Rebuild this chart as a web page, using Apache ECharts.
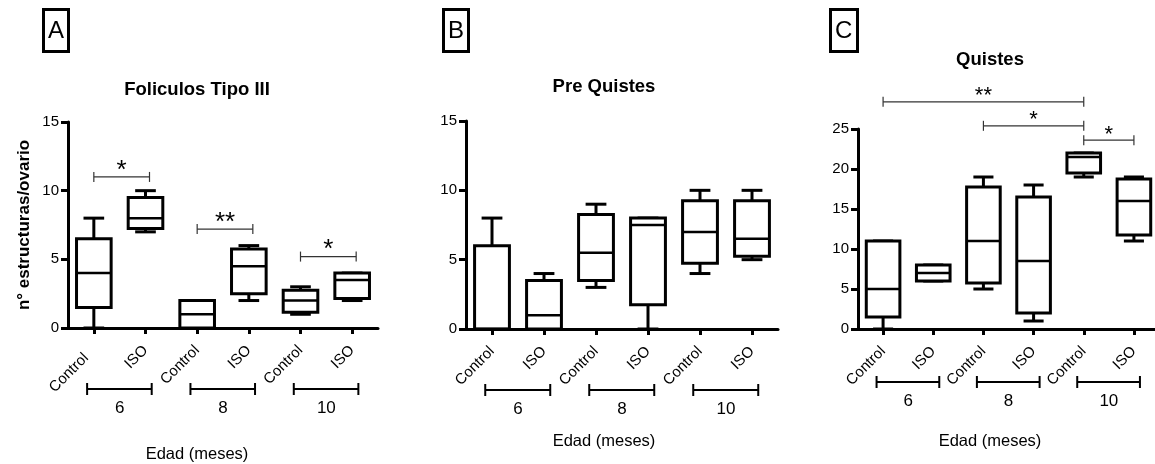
<!DOCTYPE html>
<html>
<head>
<meta charset="utf-8">
<title>Edad (meses)</title>
<script src="https://cdn.jsdelivr.net/npm/echarts@6/dist/echarts.min.js"></script>
<style>
  html, body { margin: 0; padding: 0; background: #fff; }
  #chart { width: 1155px; height: 464px; }
</style>
</head>
<body>
<div id="chart"></div>
<script>
// categorias del eje x y grupos de edad
const categorias = ['Control', 'ISO', 'Control', 'ISO', 'Control', 'ISO']
const edades = ['6', '8', '10']
const gruposEdad = [[0, 1], [2, 3], [4, 5]]

// cajas: [min, Q1, mediana, Q3, max]
const foliculosTipoIII = [
  [0, 1.5, 4, 6.5, 8],
  [7, 7.25, 8, 9.5, 10],
  [0, 0, 1, 2, 2],
  [2, 2.5, 4.5, 5.75, 6],
  [1, 1.15, 2, 2.75, 3],
  [2, 2.15, 3.5, 4, 4]
]
const preQuistes = [
  [0, 0, 0, 6, 8],
  [0, 0, 1, 3.5, 4],
  [3, 3.5, 5.5, 8.25, 9],
  [0, 1.75, 7.5, 8, 8],
  [4, 4.75, 7, 9.25, 10],
  [5, 5.25, 6.5, 9.25, 10]
]
const quistes = [
  [0, 1.5, 5, 11, 11],
  [6, 6, 7, 8, 8],
  [5, 5.75, 11, 17.75, 19],
  [1, 2, 8.5, 16.5, 18],
  [19, 19.5, 21.5, 22, 22],
  [11, 11.75, 16, 18.75, 19]
]

// significancia: [desde, hasta, altura]
const sigFoliculos = [[0, 1, 11], [2, 3, 7.2], [4, 5, 5.2]]
const sigFoliculosTxt = ['*', '**', '*']
const sigPreQuistes = []
const sigPreQuistesTxt = []
const sigQuistes = [[0, 4, 28.4], [2, 4, 25.4], [4, 5, 23.6]]
const sigQuistesTxt = ['**', '*', '*']

const titulos = ['Foliculos Tipo III', 'Pre Quistes', 'Quistes']
const letras = ['A', 'B', 'C']
const yMax = [15, 15, 25]
const yTitulo = 'n° estructuras/ovario'
const xTitulo = 'Edad (meses)'

const FONT = '"Liberation Sans", Arial, sans-serif'

const paneles = [
  { datos: foliculosTipoIII, sig: sigFoliculos, sigTxt: sigFoliculosTxt },
  { datos: preQuistes, sig: sigPreQuistes, sigTxt: sigPreQuistesTxt },
  { datos: quistes, sig: sigQuistes, sigTxt: sigQuistesTxt }
]

const layout = [
  { grid: { left: 68, top: 122, width: 310, height: 206 }, titleX: 197, titleY: 80, letterX: 43, edadX: 197, edadY: 446, groupOff: 61, sigPad: 4, star: 26 },
  { grid: { left: 466, top: 121, width: 312, height: 208 }, titleX: 604, titleY: 77.5, letterX: 443, edadX: 604, edadY: 433, groupOff: 61, sigPad: 0, star: 26 },
  { grid: { left: 858, top: 129, width: 301, height: 200 }, titleX: 990, titleY: 50, letterX: 830, edadX: 990, edadY: 433, groupOff: 53, sigPad: 0, star: 22 }
]

function renderBox(params, api) {
  const i = api.value(0)
  const v = [1, 2, 3, 4, 5].map(k => api.value(k))
  const band = api.size([1, 0])[0]
  const cx = api.coord([i, v[2]])[0]
  const y = val => api.coord([i, val])[1]
  const bw = band * 0.67
  const cw = band * 0.4
  const s = { stroke: '#000', lineWidth: 3 }
  return {
    type: 'group',
    children: [
      { type: 'line', shape: { x1: cx, y1: y(v[3]), x2: cx, y2: y(v[4]) }, style: s },
      { type: 'line', shape: { x1: cx, y1: y(v[1]), x2: cx, y2: y(v[0]) }, style: s },
      { type: 'line', shape: { x1: cx - cw / 2, y1: y(v[4]), x2: cx + cw / 2, y2: y(v[4]) }, style: s },
      { type: 'line', shape: { x1: cx - cw / 2, y1: y(v[0]), x2: cx + cw / 2, y2: y(v[0]) }, style: s },
      { type: 'rect', shape: { x: cx - bw / 2, y: y(v[3]), width: bw, height: y(v[1]) - y(v[3]) }, style: { stroke: '#000', lineWidth: 3, fill: '#fff' } },
      { type: 'line', shape: { x1: cx - bw / 2, y1: y(v[2]), x2: cx + bw / 2, y2: y(v[2]) }, style: { stroke: '#000', lineWidth: 2.5 } }
    ]
  }
}

function makeSig(texts, pad, star) {
  return function(params, api) {
    const yv = api.value(2)
    const a = api.coord([api.value(0), yv])
    const b = api.coord([api.value(1), yv])
    const x1 = b[0] + pad
    const h = 5
    const s = { stroke: '#333', lineWidth: 1.2 }
    return {
      type: 'group',
      children: [
        { type: 'line', shape: { x1: a[0], y1: a[1], x2: x1, y2: a[1] }, style: s },
        { type: 'line', shape: { x1: a[0], y1: a[1] - h, x2: a[0], y2: a[1] + h }, style: s },
        { type: 'line', shape: { x1: x1, y1: a[1] - h, x2: x1, y2: a[1] + h }, style: s },
        {
          type: 'text', x: (a[0] + x1) / 2, y: a[1] + star * 0.25,
          style: { text: texts[params.dataIndex], fontSize: star, fontFamily: FONT, fill: '#000', align: 'center', verticalAlign: 'bottom' }
        }
      ]
    }
  }
}

function makeGroup(off) {
  return function(params, api) {
    const band = api.size([1, 0])[0]
    const a = api.coord([api.value(0), 0])
    const b = api.coord([api.value(1), 0])
    const x0 = a[0] - 0.13 * band
    const x1 = b[0] + 0.12 * band
    const y = a[1] + off
    const s = { stroke: '#000', lineWidth: 2 }
    return {
      type: 'group',
      children: [
        { type: 'line', shape: { x1: x0, y1: y, x2: x1, y2: y }, style: s },
        { type: 'line', shape: { x1: x0, y1: y - 6, x2: x0, y2: y + 6 }, style: s },
        { type: 'line', shape: { x1: x1, y1: y - 6, x2: x1, y2: y + 6 }, style: s },
        {
          type: 'text', x: (a[0] + b[0]) / 2, y: y + 19,
          style: { text: edades[params.dataIndex], fontSize: 17, fontFamily: FONT, fill: '#000', align: 'center', verticalAlign: 'middle' }
        }
      ]
    }
  }
}

const chart = echarts.init(document.getElementById('chart'))

const option = {
  animation: false,
  backgroundColor: '#fff',
  title: [],
  grid: [],
  xAxis: [],
  yAxis: [],
  series: []
}

paneles.forEach((p, k) => {
  const L = layout[k]
  option.grid.push(Object.assign({ outerBoundsMode: 'none', containLabel: false }, L.grid))
  option.title.push({
    text: letras[k], left: L.letterX, top: 9,
    borderColor: '#000', borderWidth: 3, padding: [9, 5, 8, 5],
    textStyle: { fontSize: 24, fontWeight: 'normal', fontFamily: FONT, color: '#000', lineHeight: 26 }
  })
  option.title.push({
    text: titulos[k], left: L.titleX, top: L.titleY, textAlign: 'center', textVerticalAlign: 'top', padding: 0,
    textStyle: { fontSize: 18.5, fontWeight: 'bold', fontFamily: FONT, color: '#000' }
  })
  option.title.push({
    text: xTitulo, left: L.edadX, top: L.edadY, textAlign: 'center', textVerticalAlign: 'top', padding: 0,
    textStyle: { fontSize: 16.5, fontWeight: 'normal', fontFamily: FONT, color: '#000' }
  })
  option.xAxis.push({
    type: 'category',
    gridIndex: k,
    data: categorias,
    axisLine: { show: true, lineStyle: { color: '#000', width: 3 } },
    axisTick: { show: true, alignWithLabel: true, length: 6, lineStyle: { color: '#000', width: 3 } },
    axisLabel: {
      interval: 0, rotate: 45, margin: 20, fontSize: 15, color: '#000', fontFamily: FONT,
      // en A la primera etiqueta queda algo desplazada hacia abajo
      formatter: (v, idx) => (k === 0 && idx === 0 ? '{p|' + v + '}' : v),
      rich: { p: { fontSize: 15, fontFamily: FONT, color: '#000', padding: [0, 11, 0, 0] } }
    },
    splitLine: { show: false }
  })
  option.yAxis.push({
    type: 'value',
    gridIndex: k,
    min: 0,
    max: yMax[k],
    interval: 5,
    name: k === 0 ? yTitulo : '',
    nameLocation: 'middle',
    nameGap: 35,
    nameTextStyle: { fontWeight: 'bold', fontSize: 17, color: '#000', fontFamily: FONT },
    axisLine: { show: true, lineStyle: { color: '#000', width: 3 } },
    axisTick: { show: true, length: 7, lineStyle: { color: '#000', width: 3 } },
    axisLabel: { color: '#000', fontSize: 15, margin: 9, fontFamily: FONT },
    splitLine: { show: false }
  })
  option.series.push({
    type: 'custom',
    xAxisIndex: k,
    yAxisIndex: k,
    clip: false,
    renderItem: renderBox,
    encode: { x: 0, y: [1, 2, 3, 4, 5] },
    data: p.datos.map((d, i) => [i].concat(d))
  })
  if (p.sig.length) {
    option.series.push({
      type: 'custom',
      xAxisIndex: k,
      yAxisIndex: k,
      clip: false,
      renderItem: makeSig(p.sigTxt, L.sigPad, L.star),
      encode: { x: [0, 1], y: 2 },
      data: p.sig
    })
  }
  option.series.push({
    type: 'custom',
    xAxisIndex: k,
    yAxisIndex: k,
    clip: false,
    renderItem: makeGroup(L.groupOff),
    encode: { x: [0, 1], y: 2 },
    data: gruposEdad.map(g => [g[0], g[1], 0])
  })
})

chart.setOption(option)
</script>
</body>
</html>
